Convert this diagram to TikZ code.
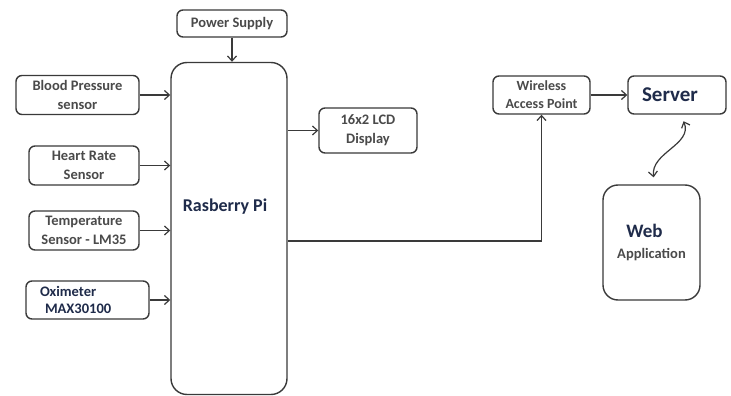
\documentclass[tikz,border=0pt]{standalone}
\usepackage{fontspec}
\setmainfont{Carlito}
\usetikzlibrary{shapes,arrows.meta,positioning,calc}
\definecolor{linegray}{HTML}{3A3A3A}
\definecolor{textgray}{HTML}{4A4A4A}
\definecolor{navy}{HTML}{1F2B4A}

\begin{document}
\begin{tikzpicture}[x=1pt,y=-1pt,
	blk/.style={draw=linegray, line width=1.4pt, rounded corners=6pt, inner sep=0pt, align=center, text=textgray, font=\fontsize{14.5}{19}\selectfont\bfseries},
	lnk/.style={draw=linegray, line width=1.2pt, -{Straight Barb[length=5pt,width=9pt]}}]
	\useasboundingbox (0,0) rectangle (731,396);
	\fill[white] (0,0) rectangle (731,396);
	% inputs
	\node[blk, minimum width=110pt, minimum height=27pt] (ps) at (232,23.5) {Power Supply};
	\node[blk, minimum width=123pt, minimum height=39pt] (bp) at (77.5,95) {Blood Pressure\\sensor};
	\node[blk, minimum width=110pt, minimum height=39pt] (hr) at (84,165.5) {Heart Rate\\Sensor};
	\node[blk, minimum width=110pt, minimum height=39pt] (tmp) at (84,230.5) {Temperature\\Sensor - LM35};
	\node[blk, minimum width=123pt, minimum height=38pt, text width=95pt, align=left, text=navy, font=\fontsize{14.5}{17}\selectfont\bfseries] (oxi) at (87.5,300) {Oximeter\\\hspace*{5pt}MAX30100};
	% controller
	\node[blk, minimum width=116pt, minimum height=332pt, rounded corners=16pt] (rpi) at (229,228.5) {};
	\node[text=navy, font=\fontsize{18}{20}\selectfont\bfseries] (rpilbl) at (225,207) {Rasberry Pi};
	% outputs
	\node[blk, minimum width=98pt, minimum height=45pt] (lcd) at (368,130.5) {16x2 LCD\\Display};
	\node[blk, minimum width=97pt, minimum height=38pt, font=\fontsize{14}{18}\selectfont\bfseries] (wap) at (541.5,95) {Wireless\\Access Point};
	\node[blk, minimum width=98pt, minimum height=38pt, text=navy, font=\fontsize{21}{22}\selectfont\bfseries] (srv) at (677,95) {Server\hspace*{14pt}};
	\node[blk, minimum width=97pt, minimum height=115pt, rounded corners=15pt, font=\fontsize{14.5}{21}\selectfont\bfseries] (web) at (651.5,242.5) {{\color{navy}\fontsize{19}{21}\selectfont Web}\hspace*{14pt}\\Application};

	\draw[lnk] (ps) -- (ps |- rpi.north);
	\foreach \s in {bp,hr,tmp,oxi} {
		\draw[lnk] (\s.east) -- (\s.east -| rpi.west);
	}
	\draw[lnk] (rpi.east |- lcd) -- (lcd.west);
	\coordinate (tap) at (rpi.east |- 0,241);
	\draw[lnk] (tap) -| (wap.south);
	\draw[lnk] (wap) -- (srv);
	\draw[draw=linegray, line width=1.2pt, {Straight Barb[length=5pt,width=9pt]}-{Straight Barb[length=5pt,width=9pt]}, shorten <=7pt, shorten >=7pt]
		([xshift=4pt]srv.south) .. controls +(12,30) and +(-4,-32) .. ([xshift=3pt]web.north);
\end{tikzpicture}
\end{document}
